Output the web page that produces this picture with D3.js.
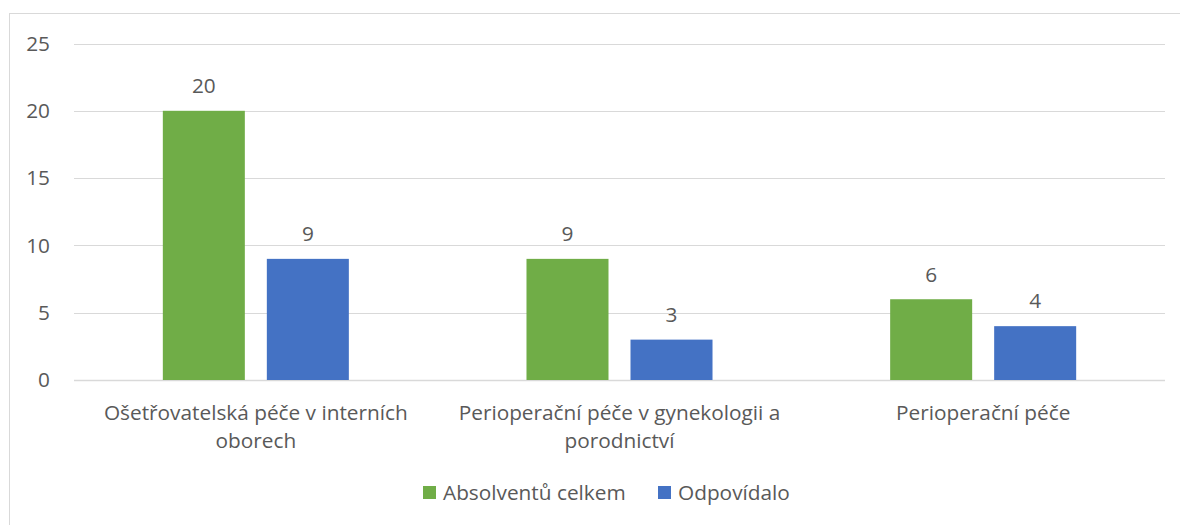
<!DOCTYPE html>
<html>
<head>
<meta charset="utf-8">
<script src="https://cdnjs.cloudflare.com/ajax/libs/d3/7.8.5/d3.min.js"></script>
<style>
  body { margin: 0; background: white; }
  svg text { font-family: "Open Sans", sans-serif; fill: #595959; }
</style>
</head>
<body>
<div id="chart"></div>
<script>
var categories = ["Ošetřovatelská péče v interních oborech", "Perioperační péče v gynekologii a porodnictví", "Perioperační péče"];
var categoryLines = [["Ošetřovatelská péče v interních", "oborech"], ["Perioperační péče v gynekologii a", "porodnictví"], ["Perioperační péče"]];
var series = ["Absolventů celkem", "Odpovídalo"];
var absolventu = [20, 9, 6];
var odpovidalo = [9, 3, 4];
var yTicks = [0, 5, 10, 15, 20, 25];
var colors = ["#70AD47", "#4472C4"];

var W = 1180, H = 525;
var plotLeft = 74, plotRight = 1165, plotTop = 43.5, plotBottom = 380;
var fontSize = "20.8px";

var svg = d3.select("#chart").append("svg")
  .attr("width", W)
  .attr("height", H);

// chart area border
svg.append("rect")
  .attr("x", 9.5).attr("y", 13.5)
  .attr("width", 1180).attr("height", 600)
  .attr("fill", "white")
  .attr("stroke", "#d9d9d9");

var y = d3.scaleLinear().domain([0, 25]).range([plotBottom, plotTop]);
var x0 = d3.scaleBand().domain(categories).range([plotLeft, plotRight]);
var x1 = d3.scaleBand().domain(series).range([0, x0.bandwidth()])
  .paddingInner(0.2115).paddingOuter(0.854);

// gridlines
svg.append("g").selectAll("line")
  .data(yTicks)
  .enter().append("line")
  .attr("x1", plotLeft).attr("x2", plotRight)
  .attr("y1", function(d) { return Math.round(y(d)) + 0.5; })
  .attr("y2", function(d) { return Math.round(y(d)) + 0.5; })
  .attr("stroke", "#d9d9d9")
  .attr("stroke-width", function(d) { return d == 0 ? 1.5 : 1; });

// y labels
svg.append("g").selectAll("text")
  .data(yTicks)
  .enter().append("text")
  .attr("x", 50)
  .attr("y", function(d) { return y(d); })
  .attr("dy", "0.35em")
  .attr("text-anchor", "end")
  .style("font-size", fontSize)
  .text(function(d) { return d; });

var rows = categories.map(function(c, i) {
  return { cat: c, values: [absolventu[i], odpovidalo[i]] };
});

var groups = svg.append("g").selectAll("g")
  .data(rows)
  .enter().append("g")
  .attr("transform", function(d) { return "translate(" + x0(d.cat) + ",0)"; });

groups.selectAll("rect")
  .data(function(d) { return d.values.map(function(v, j) { return { s: series[j], v: v, j: j }; }); })
  .enter().append("rect")
  .attr("x", function(d) { return x1(d.s); })
  .attr("width", x1.bandwidth())
  .attr("y", function(d) { return y(d.v); })
  .attr("height", function(d) { return y(0) - y(d.v); })
  .attr("fill", function(d) { return colors[d.j]; });

groups.selectAll("text.val")
  .data(function(d) { return d.values.map(function(v, j) { return { s: series[j], v: v }; }); })
  .enter().append("text")
  .attr("class", "val")
  .attr("x", function(d) { return x1(d.s) + x1.bandwidth() / 2; })
  .attr("y", function(d) { return y(d.v) - 25; })
  .attr("dy", "0.35em")
  .attr("text-anchor", "middle")
  .style("font-size", fontSize)
  .text(function(d) { return d.v; });

// category labels
svg.append("g").selectAll("text")
  .data(categories)
  .enter().append("text")
  .attr("x", function(d) { return x0(d) + x0.bandwidth() / 2; })
  .attr("y", 413)
  .attr("text-anchor", "middle")
  .style("font-size", fontSize)
  .each(function(d, i) {
    var t = d3.select(this);
    categoryLines[i].forEach(function(line, k) {
      t.append("tspan")
        .attr("x", x0(d) + x0.bandwidth() / 2)
        .attr("dy", k == 0 ? "0.35em" : "28px")
        .text(line);
    });
  });

// legend
var legendX = [423, 658];
var legend = svg.append("g").selectAll("g")
  .data(series)
  .enter().append("g")
  .attr("transform", function(d, i) { return "translate(" + legendX[i] + ",486)"; });

legend.append("rect")
  .attr("width", 13).attr("height", 13)
  .attr("fill", function(d, i) { return colors[i]; });

legend.append("text")
  .attr("x", 20).attr("y", 7)
  .attr("dy", "0.35em")
  .style("font-size", fontSize)
  .text(function(d) { return d; });
</script>
</body>
</html>
